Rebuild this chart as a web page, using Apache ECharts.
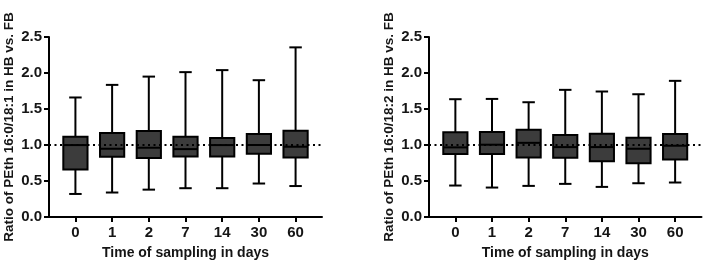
<!DOCTYPE html>
<html>
<head>
<meta charset="utf-8">
<script src="https://cdn.jsdelivr.net/npm/echarts@6/dist/echarts.min.js"></script>
<style>
  html, body { margin: 0; padding: 0; background: #fff; }
  #main { width: 709px; height: 269px; }
</style>
</head>
<body>
<div id="main"></div>
<script>
// sampling days
var days = ['0', '1', '2', '7', '14', '30', '60'];
var yTicks = [0, 0.5, 1, 1.5, 2, 2.5];

// PEth 16:0/18:1 ratio (HB vs FB)
var low181  = [0.32, 0.34, 0.38, 0.40, 0.40, 0.465, 0.43];
var q1181   = [0.66, 0.836, 0.818, 0.841, 0.841, 0.878, 0.827];
var med181  = [0.999, 0.948, 0.962, 0.943, 0.999, 1.0, 0.976];
var q3181   = [1.115, 1.166, 1.194, 1.115, 1.097, 1.152, 1.199];
var high181 = [1.66, 1.835, 1.95, 2.012, 2.04, 1.90, 2.356];

// PEth 16:0/18:2 ratio (HB vs FB)
var low182  = [0.437, 0.409, 0.432, 0.46, 0.418, 0.469, 0.479];
var q1182   = [0.874, 0.874, 0.827, 0.822, 0.776, 0.748, 0.80];
var med182  = [0.967, 1.004, 1.03, 0.971, 0.971, 0.948, 0.99];
var q3182   = [1.176, 1.18, 1.213, 1.138, 1.157, 1.101, 1.152];
var high182 = [1.636, 1.64, 1.594, 1.766, 1.743, 1.705, 1.891];

var refLevel = 1.0;

function rows(lo, q1, md, q3, hi) {
  return days.map(function (d, i) { return [i, lo[i], q1[i], md[i], q3[i], hi[i]]; });
}

var chart = echarts.init(document.getElementById('main'));
var txt = '#151515';
var font = 'Liberation Sans';

function renderBox(params, api) {
  var x = api.value(0);
  var lo = api.coord([x, api.value(1)]);
  var q1 = api.coord([x, api.value(2)]);
  var md = api.coord([x, api.value(3)]);
  var q3 = api.coord([x, api.value(4)]);
  var hi = api.coord([x, api.value(5)]);
  var unit = api.size([1, 0])[0];
  var bw = unit * 0.66, cw = unit * 0.34;
  var cx = md[0];
  var ls = { stroke: '#000', lineWidth: 2 };
  return {
    type: 'group',
    children: [
      { type: 'line', shape: { x1: cx, y1: hi[1], x2: cx, y2: q3[1] }, style: ls },
      { type: 'line', shape: { x1: cx, y1: q1[1], x2: cx, y2: lo[1] }, style: ls },
      { type: 'line', shape: { x1: cx - cw / 2, y1: hi[1], x2: cx + cw / 2, y2: hi[1] }, style: ls },
      { type: 'line', shape: { x1: cx - cw / 2, y1: lo[1], x2: cx + cw / 2, y2: lo[1] }, style: ls },
      { type: 'rect', shape: { x: cx - bw / 2, y: q3[1], width: bw, height: q1[1] - q3[1] },
        style: { fill: '#3c3c3c', stroke: '#000', lineWidth: 2 } },
      { type: 'line', shape: { x1: cx - bw / 2, y1: md[1], x2: cx + bw / 2, y2: md[1] }, style: ls }
    ]
  };
}

function xAxisCfg(gi) {
  return {
    type: 'value', gridIndex: gi, min: -0.72, max: 6.72,
    name: 'Time of sampling in days', nameLocation: 'middle', nameGap: 29,
    nameTextStyle: { color: txt, fontSize: 14, fontWeight: 'bold', fontFamily: font },
    axisLine: { show: true, onZero: false, lineStyle: { color: '#000', width: 2 } },
    axisTick: { show: true, length: 5, lineStyle: { color: '#000', width: 2 }, customValues: [0, 1, 2, 3, 4, 5, 6] },
    axisLabel: { color: txt, fontSize: 15, fontWeight: 'bold', fontFamily: font, margin: 8,
      customValues: [0, 1, 2, 3, 4, 5, 6],
      formatter: function (v) { return days[Math.round(v)]; } },
    splitLine: { show: false }
  };
}

function yAxisCfg(gi, name) {
  return {
    type: 'value', gridIndex: gi, min: 0, max: 2.5, interval: 0.5,
    name: name, nameLocation: 'middle', nameGap: 33,
    nameTextStyle: { color: txt, fontSize: 13.5, fontWeight: 'bold', fontFamily: font },
    axisLine: { show: true, onZero: false, lineStyle: { color: '#000', width: 2 } },
    axisTick: { show: true, length: 5, lineStyle: { color: '#000', width: 2 } },
    axisLabel: { color: txt, fontSize: 15, fontWeight: 'bold', fontFamily: font, margin: 7,
      formatter: function (v) { return v.toFixed(1); } },
    splitLine: { show: false }
  };
}

function refLine(gi) {
  return {
    type: 'line', xAxisIndex: gi, yAxisIndex: gi, data: [], z: 1, silent: true,
    markLine: {
      symbol: 'none', silent: true, label: { show: false },
      lineStyle: { color: '#000', width: 2, type: [2, 3.5] },
      data: [{ yAxis: refLevel }]
    }
  };
}

chart.setOption({
  animation: false,
  grid: [
    { left: 49, top: 37, width: 273, height: 180 },
    { left: 429, top: 37, width: 272.5, height: 180 }
  ],
  xAxis: [xAxisCfg(0), xAxisCfg(1)],
  yAxis: [
    yAxisCfg(0, 'Ratio of PEth 16:0/18:1 in HB vs. FB'),
    yAxisCfg(1, 'Ratio of PEth 16:0/18:2 in HB vs. FB')
  ],
  series: [
    refLine(0),
    refLine(1),
    { type: 'custom', xAxisIndex: 0, yAxisIndex: 0, z: 3, renderItem: renderBox,
      encode: { x: 0, y: [1, 2, 3, 4, 5] }, data: rows(low181, q1181, med181, q3181, high181) },
    { type: 'custom', xAxisIndex: 1, yAxisIndex: 1, z: 3, renderItem: renderBox,
      encode: { x: 0, y: [1, 2, 3, 4, 5] }, data: rows(low182, q1182, med182, q3182, high182) }
  ]
});
</script>
</body>
</html>
